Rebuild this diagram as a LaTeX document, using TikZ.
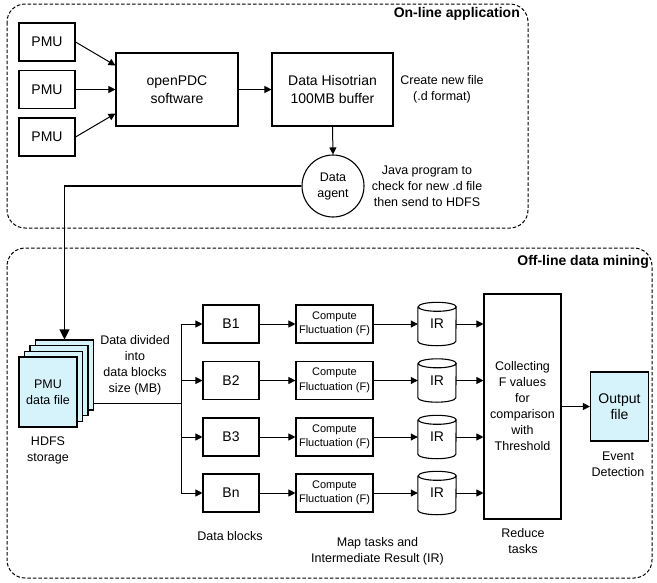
\documentclass[tikz,border=0pt]{standalone}
\usepackage{fontspec}
\setmainfont{Liberation Sans}
\usetikzlibrary{arrows.meta}
\definecolor{fileblue}{RGB}{214,243,252}
\begin{document}
\begin{tikzpicture}[x=1pt,y=-1pt,
  box/.style={draw, line width=1.1pt, align=center, inner sep=0pt, font=\fontsize{14}{17.5}\selectfont},
  annot/.style={align=center, inner sep=0pt, font=\fontsize{12.5}{16}\selectfont},
  title/.style={inner sep=0pt, font=\fontsize{14}{17}\selectfont\bfseries},
  region/.style={draw, dash pattern=on 3.5pt off 2pt, line width=1pt, rounded corners=18pt},
  conn/.style={line width=1pt},
  arr/.style={conn, -{Triangle[length=7pt,width=7pt]}},
  bigarr/.style={line width=1.2pt, -{Triangle[length=10pt,width=10pt]}},
  page/.style={draw, fill=fileblue, line width=1.1pt, minimum width=58, minimum height=70, inner sep=0pt, align=center, font=\fontsize{12.5}{16}\selectfont},
  bbox/.style={box, minimum width=56, minimum height=38},
  cbox/.style={box, font=\fontsize{11}{14.5}\selectfont, minimum width=77, minimum height=38},
  irbox/.style={minimum width=38, minimum height=43, inner sep=0pt, font=\fontsize{14}{17}\selectfont},
  cyl/.style={line width=1.1pt},
]
\useasboundingbox (0,0) rectangle (657,582);

% regions
\draw[region] (7,4) rectangle (528,228);
\draw[region] (7,248) rectangle (652,578);
\node[title, anchor=east] (t1) at (520,14) {On-line application};
\node[title, anchor=east] (t2) at (649,262) {Off-line data mining};

% on-line part
\node[bbox] (pmu1) at (47,42) {PMU};
\node[bbox] (pmu2) at (47,89.5) {PMU};
\node[bbox] (pmu3) at (47,137) {PMU};
\node[box, minimum width=122, minimum height=73] (opdc) at (177,89.5) {openPDC\\software};
\node[box, minimum width=121, minimum height=73] (hist) at (332.5,89.5) {Data Hisotrian\\100MB buffer};
\node[annot, draw, circle, line width=1.1pt, minimum size=62] (agent) at (333,186) {Data\\agent};
\node[annot] (create) at (442,89) {Create new file\\(.d format)};
\node[annot] (java) at (427,186) {Java program to\\check for new .d file\\then send to HDFS};

\draw[arr] (pmu1.east) -- ([yshift=24pt]opdc.west);
\draw[arr] (pmu2.east) -- (opdc.west);
\draw[arr] (pmu3.east) -- ([yshift=-24pt]opdc.west);
\draw[arr] (opdc.east) -- (hist.west);
\draw[arr] (hist.south) -- (agent.north);

% file stack
\node[page] (pg3) at (64.5,375) {};
\node[page] (pg2) at (59,380.7) {};
\node[page] (pg1) at (53.5,386.3) {};
\node[page] (pmufile) at (48,392) {PMU\\data file};
\draw[bigarr] (agent.west) -| (pg3.north);
\node[annot] (hdfs) at (48,450) {HDFS\\storage};
\node[annot] (divided) at (135,365) {Data divided\\into\\data blocks\\size (MB)};

\coordinate (split) at (181,403);
\draw[conn] (pg3.east |- split) -- (split);

% map part
\foreach \i/\y in {1/324,2/380.5,3/437,n/493} {
  \node[bbox] (b\i) at (231,\y) {B\i};
  \node[cbox] (c\i) at (334.5,\y) {Compute\\Fluctuation (F)};
  \node[irbox] (ir\i) at (437,\y) {IR};
  \draw[cyl] ([yshift=-4.5pt]ir\i.north west) -- ([yshift=4.5pt]ir\i.south west)
     arc[start angle=180,end angle=360,x radius=19pt,y radius=4.5pt]
     -- ([yshift=-4.5pt]ir\i.north east)
     arc[start angle=0,end angle=180,x radius=19pt,y radius=4.5pt]
     arc[start angle=180,end angle=360,x radius=19pt,y radius=4.5pt];
}
\node[box, font=\fontsize{12.5}{16}\selectfont, minimum width=77, minimum height=225] (reduce) at (522.5,406.5) {Collecting\\F values\\for\\comparison\\with\\Threshold};
\node[box, fill=fileblue, minimum width=58, minimum height=69, font=\fontsize{14}{16.5}\selectfont] (out) at (619.5,406.5) {Output\\file};

\draw[conn] (split |- b1) -- (split |- bn);
\foreach \i in {1,2,3,n} {
  \draw[arr] (split |- b\i) -- (b\i.west);
  \draw[arr] (b\i.east) -- (c\i.west);
  \draw[arr] (c\i.east) -- (ir\i.west);
  \draw[arr] (ir\i.east) -- (reduce.west |- ir\i.east);
}
\draw[arr] (reduce.east) -- (out.west);

\node[annot] (dblk) at (230,536) {Data blocks};
\node[annot] (maplbl) at (377.5,551) {Map tasks and\\Intermediate Result (IR)};
\node[annot] (redlbl) at (523,541) {Reduce\\tasks};
\node[annot] (evt) at (618,464) {Event\\Detection};
\end{tikzpicture}
\end{document}
